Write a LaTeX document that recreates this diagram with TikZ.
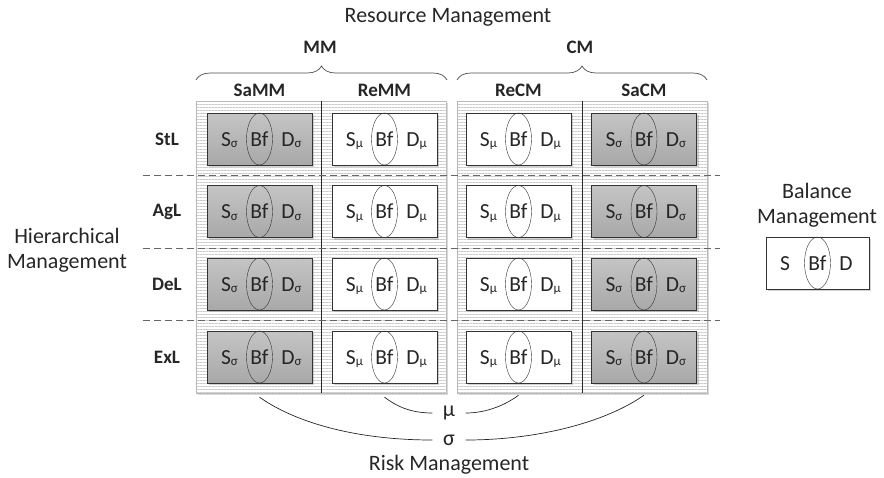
\documentclass[tikz,border=0pt]{standalone}
\usepackage{fontspec}
\setmainfont{Carlito}
\usetikzlibrary{shapes.geometric,shadows,patterns.meta,decorations.pathreplacing}
\definecolor{txt}{HTML}{262626}
\newcommand{\mysub}[1]{\raisebox{-0.08em}{\fontsize{13}{13}\selectfont #1}}
\begin{document}
\begin{tikzpicture}[x=1pt,y=-1pt,
  big/.style={font=\fontsize{22}{24}\selectfont, text=txt, inner sep=0pt},
  hdr/.style={font=\bfseries\fontsize{19}{22}\selectfont, text=txt, inner sep=0pt},
  intext/.style={font=\fontsize{21.5}{23}\selectfont, text=txt, inner sep=0pt, anchor=base},
  panel/.style={draw=gray!55, fill=white, minimum width=250, minimum height=292, inner sep=0pt,
    drop shadow={opacity=0.3, shadow xshift=2pt, shadow yshift=-2pt}},
  stripes/.style={pattern={Lines[angle=0,distance=3pt,line width=1pt]}, pattern color=gray!40},
  gbox/.style={draw=black!80, top color=black!23, bottom color=black!34, minimum width=105, minimum height=52, inner sep=0pt,
    drop shadow={opacity=0.35, shadow xshift=2pt, shadow yshift=-2pt}},
  wbox/.style={draw=black!80, fill=white, minimum width=105, minimum height=52, inner sep=0pt,
    drop shadow={opacity=0.35, shadow xshift=2pt, shadow yshift=-2pt}},
  ell/.style={ellipse, draw=black!80, minimum width=26, minimum height=52, inner sep=0pt},
  dashline/.style={draw=black!60, dash pattern=on 7pt off 4pt, line width=0.8pt},
  divider/.style={draw=black!85, line width=0.6pt},
  bracestyle/.style={draw=black!70, line width=0.7pt, decorate, decoration={brace, amplitude=14pt}},
  curve/.style={draw=black!85, line width=0.7pt},
  greek/.style={font=\fontsize{22}{24}\selectfont, text=txt, inner sep=0pt, minimum width=33, minimum height=14}
]
\useasboundingbox (0,0) rectangle (884,477);

% titles
\node[big] (res) at (448,17) {Resource Management};
\node[hdr] (mm) at (320,47) {MM};
\node[hdr] (cm) at (580,47) {CM};
\draw[bracestyle] (196,80) -- (447,80);
\draw[bracestyle] (457,80) -- (707,80);

\node[hdr] (c1) at (259.5,90) {SaMM};
\node[hdr] (c2) at (384.5,90) {ReMM};
\node[hdr] (c3) at (518.5,90) {ReCM};
\node[hdr] (c4) at (644,90) {SaCM};

% panels
\node[panel] (pl) at (321,247) {};
\fill[stripes] (pl.south west) rectangle (pl.north east);
\draw[gray!55] (pl.south west) rectangle (pl.north east);
\node[panel] (pr) at (582,247) {};
\fill[stripes] (pr.south west) rectangle (pr.north east);
\draw[gray!55] (pr.south west) rectangle (pr.north east);
\draw[divider] (pl.north) -- (pl.south);
\draw[divider] (pr.north) -- (pr.south);

% dashed row separators
\draw[dashline] (143,175) -- (720,175);
\draw[dashline] (143,248) -- (720,248);
\draw[dashline] (143,320) -- (720,320);

% row labels
\node[hdr] (r1) at (167,139) {StL};
\node[hdr] (r2) at (167,211.5) {AgL};
\node[hdr] (r3) at (167,284) {DeL};
\node[hdr] (r4) at (167,357) {ExL};

% boxes
\foreach \r/\y in {1/139,2/211.5,3/284,4/357}{
  \foreach \c/\x in {1/259.5,4/644}{
    \node[gbox] (b\c\r) at (\x,\y) {};
    \node[ell] (e\c\r) at (b\c\r.center) {};
    \node[intext] (f\c\r) at ([yshift=-7pt]e\c\r.center) {Bf};
    \node[intext] (s\c\r) at ([xshift=-30pt,yshift=-7pt]b\c\r.center) {S\mysub{σ}};
    \node[intext] (d\c\r) at ([xshift=32pt,yshift=-7pt]b\c\r.center) {D\mysub{σ}};
  }
  \foreach \c/\x in {2/384.5,3/518.5}{
    \node[wbox] (b\c\r) at (\x,\y) {};
    \node[ell] (e\c\r) at (b\c\r.center) {};
    \node[intext] (f\c\r) at ([yshift=-7pt]e\c\r.center) {Bf};
    \node[intext] (s\c\r) at ([xshift=-30pt,yshift=-7pt]b\c\r.center) {S\mysub{μ}};
    \node[intext] (d\c\r) at ([xshift=32pt,yshift=-7pt]b\c\r.center) {D\mysub{μ}};
  }
}

% hierarchical
\node[big, align=center] (hier) at (67,250) {Hierarchical\\[1pt]Management};

% balance
\node[big, align=center] (bal) at (817,205) {Balance\\[1pt]Management};
\node[wbox, minimum width=103] (bb) at (817.5,263) {};
\node[ell] (be) at (bb.center) {};
\node[intext] (bf) at ([yshift=-7pt]be.center) {Bf};
\node[intext] (bs) at (785,270) {S};
\node[intext] (bd) at (846,270) {D};

% risk curves
\node[greek] (mu) at (449,413) {μ};
\node[greek] (sg) at (449,440) {σ};
\coordinate (mu1) at ([yshift=-14pt]b24.south);
\coordinate (mu2) at ([yshift=-12pt]b34.south);
\coordinate (sg1) at ([yshift=-14pt]b14.south);
\coordinate (sg2) at ([yshift=-12pt]b44.south);
\draw[curve] (mu1) .. controls +(12,9) and +(-22,0) .. (mu.west);
\draw[curve] (mu.east) .. controls +(22,0) and +(-12,9) .. (mu2);
\draw[curve] (sg1) .. controls +(40,28) and +(-70,0) .. (sg.west);
\draw[curve] (sg.east) .. controls +(70,0) and +(-40,28) .. (sg2);
\node[big] (risk) at (449,465) {Risk Management};
\end{tikzpicture}
\end{document}
